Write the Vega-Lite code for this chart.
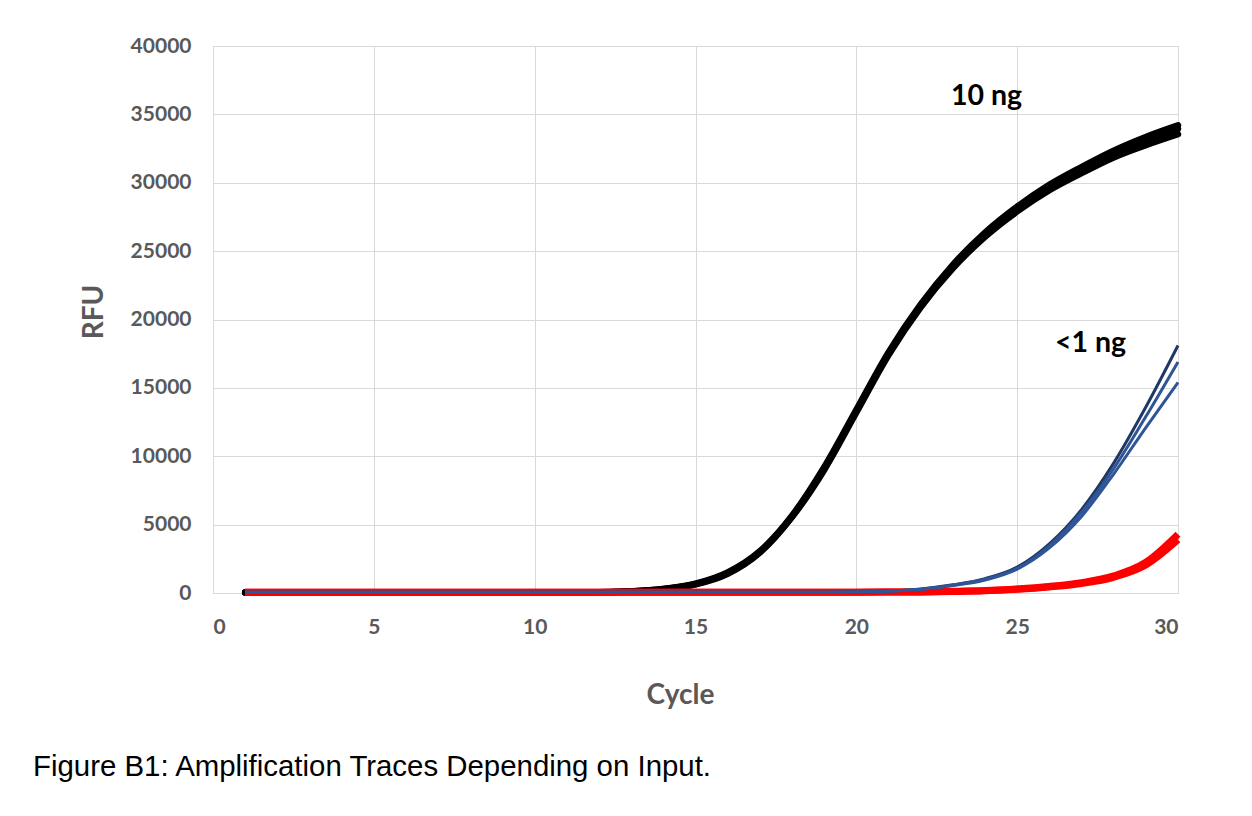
{
  "$schema": "https://vega.github.io/schema/vega-lite/v6.json",
  "width": 965,
  "height": 547,
  "autosize": {"type": "none"},
  "padding": {"left": 213, "top": 46, "right": 74, "bottom": 223},
  "background": "white",
  "title": {
    "text": "Figure B1: Amplification Traces Depending on Input.",
    "orient": "bottom",
    "anchor": "start",
    "frame": "group",
    "dx": -180,
    "offset": 44,
    "font": "Liberation Sans",
    "fontSize": 29.4,
    "fontWeight": "normal",
    "color": "#000000"
  },
  "config": {
    "view": {"stroke": "#D9D9D9"},
    "axis": {
      "gridColor": "#D9D9D9",
      "gridWidth": 1,
      "ticks": false,
      "labelFont": "Lato",
      "labelFontWeight": "bold",
      "labelFontSize": 21,
      "labelColor": "#595959",
      "titleFont": "Lato",
      "titleFontWeight": "bold",
      "titleFontSize": 28,
      "titleColor": "#595959"
    }
  },
  "datasets": {
    "traces": [
      {"cycle": 1, "k1": 30, "k2": 30, "k3": 30, "r1": 60, "r2": 60, "b1": 60, "b2": 60, "b3": 60},
      {"cycle": 2, "k1": 30, "k2": 30, "k3": 30, "r1": 60, "r2": 60, "b1": 60, "b2": 60, "b3": 60},
      {"cycle": 3, "k1": 30, "k2": 30, "k3": 30, "r1": 60, "r2": 60, "b1": 60, "b2": 60, "b3": 60},
      {"cycle": 4, "k1": 30, "k2": 30, "k3": 30, "r1": 60, "r2": 60, "b1": 60, "b2": 60, "b3": 60},
      {"cycle": 5, "k1": 30, "k2": 30, "k3": 30, "r1": 60, "r2": 60, "b1": 60, "b2": 60, "b3": 60},
      {"cycle": 6, "k1": 30, "k2": 30, "k3": 30, "r1": 60, "r2": 60, "b1": 60, "b2": 60, "b3": 60},
      {"cycle": 7, "k1": 30, "k2": 30, "k3": 30, "r1": 60, "r2": 60, "b1": 60, "b2": 60, "b3": 60},
      {"cycle": 8, "k1": 30, "k2": 30, "k3": 30, "r1": 60, "r2": 60, "b1": 60, "b2": 60, "b3": 60},
      {"cycle": 9, "k1": 30, "k2": 30, "k3": 30, "r1": 60, "r2": 60, "b1": 60, "b2": 60, "b3": 60},
      {"cycle": 10, "k1": 30, "k2": 30, "k3": 30, "r1": 60, "r2": 60, "b1": 60, "b2": 60, "b3": 60},
      {"cycle": 11, "k1": 35, "k2": 35, "k3": 35, "r1": 60, "r2": 60, "b1": 60, "b2": 60, "b3": 60},
      {"cycle": 12, "k1": 50, "k2": 50, "k3": 50, "r1": 60, "r2": 60, "b1": 60, "b2": 60, "b3": 60},
      {"cycle": 13, "k1": 120, "k2": 115, "k3": 110, "r1": 60, "r2": 60, "b1": 60, "b2": 60, "b3": 60},
      {"cycle": 14, "k1": 300, "k2": 290, "k3": 280, "r1": 60, "r2": 60, "b1": 60, "b2": 60, "b3": 60},
      {"cycle": 15, "k1": 680, "k2": 650, "k3": 630, "r1": 60, "r2": 60, "b1": 60, "b2": 60, "b3": 60},
      {"cycle": 16, "k1": 1500, "k2": 1450, "k3": 1400, "r1": 60, "r2": 60, "b1": 60, "b2": 60, "b3": 60},
      {"cycle": 17, "k1": 3050, "k2": 3000, "k3": 2950, "r1": 60, "r2": 60, "b1": 60, "b2": 60, "b3": 60},
      {"cycle": 18, "k1": 5650, "k2": 5600, "k3": 5550, "r1": 60, "r2": 60, "b1": 60, "b2": 60, "b3": 60},
      {"cycle": 19, "k1": 9200, "k2": 9100, "k3": 9000, "r1": 60, "r2": 60, "b1": 60, "b2": 60, "b3": 60},
      {"cycle": 20, "k1": 13400, "k2": 13300, "k3": 13200, "r1": 60, "r2": 60, "b1": 65, "b2": 65, "b3": 65},
      {"cycle": 21, "k1": 17600, "k2": 17500, "k3": 17400, "r1": 65, "r2": 65, "b1": 150, "b2": 140, "b3": 130},
      {"cycle": 22, "k1": 21100, "k2": 21000, "k3": 20900, "r1": 80, "r2": 80, "b1": 300, "b2": 280, "b3": 260},
      {"cycle": 23, "k1": 24000, "k2": 23900, "k3": 23750, "r1": 120, "r2": 110, "b1": 600, "b2": 570, "b3": 540},
      {"cycle": 24, "k1": 26350, "k2": 26200, "k3": 26050, "r1": 180, "r2": 160, "b1": 1050, "b2": 1000, "b3": 950},
      {"cycle": 25, "k1": 28250, "k2": 28100, "k3": 27900, "r1": 300, "r2": 270, "b1": 1900, "b2": 1800, "b3": 1750},
      {"cycle": 26, "k1": 29850, "k2": 29700, "k3": 29450, "r1": 480, "r2": 440, "b1": 3600, "b2": 3450, "b3": 3300},
      {"cycle": 27, "k1": 31150, "k2": 31000, "k3": 30700, "r1": 760, "r2": 700, "b1": 6100, "b2": 5900, "b3": 5600},
      {"cycle": 28, "k1": 32350, "k2": 32200, "k3": 31850, "r1": 1250, "r2": 1150, "b1": 9500, "b2": 9100, "b3": 8700},
      {"cycle": 29, "k1": 33350, "k2": 33150, "k3": 32750, "r1": 2250, "r2": 2050, "b1": 13600, "b2": 12900, "b3": 12100},
      {"cycle": 30, "k1": 34200, "k2": 33950, "k3": 33550, "r1": 4300, "r2": 3900, "b1": 18100, "b2": 16900, "b3": 15400}
    ],
    "labels": [
      {"cycle": 24.05, "rfu": 35700, "label": "10 ng"},
      {"cycle": 27.28, "rfu": 17620, "label": "<1 ng"}
    ]
  },
  "layer": [
    {
      "data": {"name": "traces"},
      "transform": [{"fold": ["k1", "k2", "k3"], "as": ["series", "rfu"]}],
      "mark": {"type": "line", "interpolate": "monotone", "strokeWidth": 6.5, "color": "#000000", "strokeCap": "round"},
      "encoding": {
        "x": {"field": "cycle", "type": "quantitative", "scale": {"domain": [0, 30], "nice": false},
              "axis": {"values": [0, 5, 10, 15, 20, 25, 30], "title": "Cycle", "domainColor": "#D9D9D9", "labelPadding": 23, "titleX": 467, "titleY": 110, "titleBaseline": "alphabetic", "titleAnchor": null, "titleAlign": "center"}},
        "y": {"field": "rfu", "type": "quantitative", "scale": {"domain": [0, 40000], "nice": false},
              "axis": {"values": [0, 5000, 10000, 15000, 20000, 25000, 30000, 35000, 40000], "format": "d", "title": "RFU", "domain": false, "labelPadding": 22, "titleAngle": -90, "titleX": -111, "titleY": 265.5, "titleBaseline": "alphabetic", "titleAlign": "center"}},
        "detail": {"field": "series"}
      }
    },
    {
      "data": {"name": "traces"},
      "transform": [{"fold": ["r1", "r2"], "as": ["series", "rfu"]}],
      "mark": {"type": "line", "interpolate": "monotone", "strokeWidth": 7, "color": "#FF0000"},
      "encoding": {
        "x": {"field": "cycle", "type": "quantitative"},
        "y": {"field": "rfu", "type": "quantitative"},
        "detail": {"field": "series"}
      }
    },
    {
      "data": {"name": "traces"},
      "transform": [{"fold": ["b1", "b2", "b3"], "as": ["series", "rfu"]}],
      "mark": {"type": "line", "interpolate": "monotone", "strokeWidth": 3},
      "encoding": {
        "x": {"field": "cycle", "type": "quantitative"},
        "y": {"field": "rfu", "type": "quantitative"},
        "color": {"field": "series", "type": "nominal", "scale": {"domain": ["b1", "b2", "b3"], "range": ["#203864", "#2F5597", "#2F5597"]}, "legend": null}
      }
    },
    {
      "data": {"name": "labels"},
      "mark": {"type": "text", "font": "Lato", "fontWeight": "bold", "fontSize": 28.5, "color": "#000000", "align": "center", "baseline": "alphabetic"},
      "encoding": {
        "x": {"field": "cycle", "type": "quantitative"},
        "y": {"field": "rfu", "type": "quantitative"},
        "text": {"field": "label"}
      }
    }
  ]
}
